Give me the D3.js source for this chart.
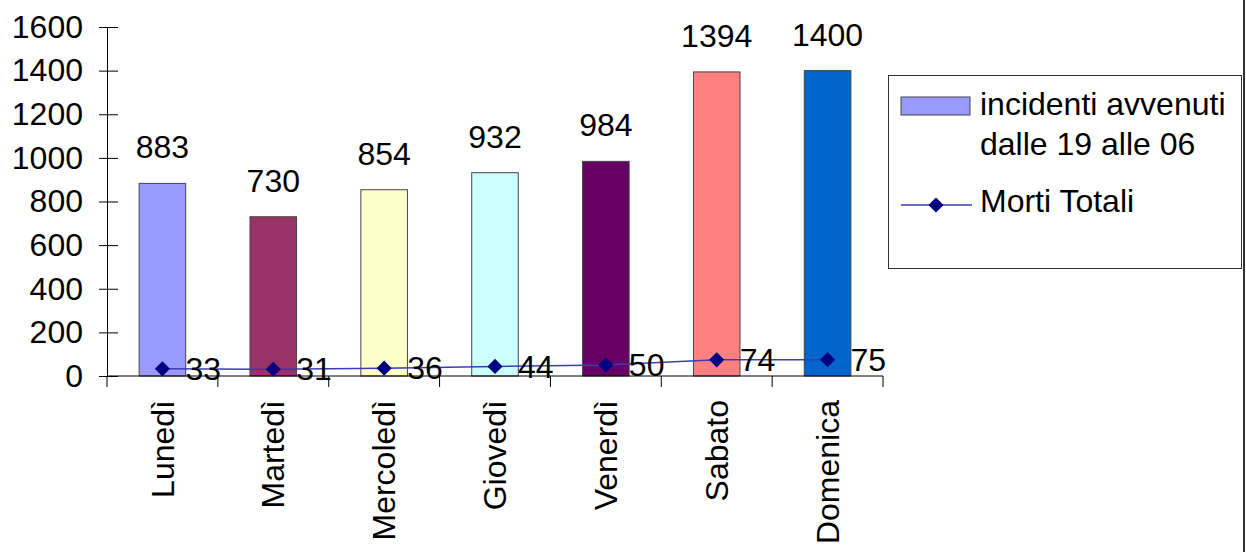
<!DOCTYPE html>
<html><head><meta charset="utf-8">
<script src="https://cdn.jsdelivr.net/npm/d3@7"></script>
<style>body{margin:0;background:#fff}svg{display:block;font-family:"Liberation Sans",Arial,sans-serif}</style>
</head><body><svg id="c" width="1246" height="552"></svg>
<script>
const categories = ["Lunedì","Martedì","Mercoledì","Giovedì","Venerdì","Sabato","Domenica"];
const incidenti = [883,730,854,932,984,1394,1400];
const morti = [33,31,36,44,50,74,75];
const barColors = ["#9999ff","#993366","#ffffcc","#ccffff","#660066","#ff8080","#0066cc"];
const yTicks = [0,200,400,600,800,1000,1200,1400,1600];
const seriesNames = ["incidenti avvenuti","dalle 19 alle 06","Morti Totali"];

(function(){
const svg = d3.select("#c");
const pL = 107, pR = 883, pT = 27, pB = 376;
const x = d3.scaleBand().domain(categories).range([pL, pR]).padding(0);
const y = d3.scaleLinear().domain([0,1600]).range([pB, pT]);
const fs = 32;

// right border
svg.append("line").attr("x1",1244).attr("x2",1244).attr("y1",0).attr("y2",552).attr("stroke","#333").attr("stroke-width",2);

// bars
const bw = x.bandwidth()*0.42;
svg.selectAll("rect.bar").data(incidenti).join("rect").attr("class","bar")
  .attr("x",(d,i)=>x(categories[i])+x.bandwidth()/2-bw/2)
  .attr("y",d=>y(d)).attr("width",bw).attr("height",d=>y(0)-y(d))
  .attr("fill",(d,i)=>barColors[i]).attr("stroke","#444").attr("stroke-width",1);

// bar labels
svg.selectAll("text.bl").data(incidenti).join("text").attr("class","bl")
  .attr("x",(d,i)=>x(categories[i])+x.bandwidth()/2).attr("y",d=>y(d)-25)
  .attr("text-anchor","middle").attr("font-size",fs).attr("fill","#000").text(d=>d);

// y axis
const yAxis = d3.axisLeft(y).tickValues(yTicks).tickFormat(d3.format("d")).tickSizeInner(0).tickSizeOuter(0).tickPadding(24);
const ga = svg.append("g").attr("transform",`translate(${pL},0)`).call(yAxis);
ga.select(".domain").attr("stroke","#000");
ga.selectAll("text").attr("font-size",fs).attr("font-family","Liberation Sans, Arial, sans-serif").attr("fill","#000");
ga.selectAll(".tick").append("line").attr("x1",-8).attr("x2",11).attr("stroke","#000");

// x axis
const gx = svg.append("g").attr("transform",`translate(0,${pB})`);
gx.append("line").attr("x1",pL).attr("x2",pR).attr("stroke","#000");
const bounds = categories.map(c=>x(c)).concat([pR]);
gx.selectAll("line.bt").data(bounds).join("line").attr("class","bt")
  .attr("x1",d=>d).attr("x2",d=>d).attr("y1",0).attr("y2",11).attr("stroke","#000");
gx.selectAll("text").data(categories).join("text")
  .attr("transform",d=>`translate(${x(d)+x.bandwidth()/2},24) rotate(-90)`)
  .attr("dy","0.35em").attr("text-anchor","end").attr("font-size",fs).attr("fill","#000").text(d=>d);

// line
const cx = i => x(categories[i])+x.bandwidth()/2;
const line = d3.line().x((d,i)=>cx(i)).y(d=>y(d));
svg.append("path").datum(morti).attr("d",line).attr("fill","none").attr("stroke","#3c3cb4").attr("stroke-width",1.5);
svg.selectAll("path.mk").data(morti).join("path").attr("class","mk")
  .attr("d",d3.symbol().type(d3.symbolSquare).size(115))
  .attr("transform",(d,i)=>`translate(${cx(i)},${y(d)}) rotate(45)`).attr("fill","#000080");
svg.selectAll("text.ml").data(morti).join("text").attr("class","ml")
  .attr("x",(d,i)=>cx(i)+23).attr("y",d=>y(d)).attr("dy","0.35em")
  .attr("font-size",fs).attr("fill","#000").text(d=>d);

// legend
const lg = svg.append("g");
lg.append("rect").attr("x",888.5).attr("y",75.5).attr("width",353).attr("height",193).attr("fill","#fff").attr("stroke","#333");
lg.append("rect").attr("x",901).attr("y",97).attr("width",69).attr("height",18).attr("fill",barColors[0]).attr("stroke","#444");
lg.append("text").attr("x",980).attr("y",115).attr("font-size",fs).text(seriesNames[0]);
lg.append("text").attr("x",980).attr("y",155).attr("font-size",fs).text(seriesNames[1]);
lg.append("line").attr("x1",901).attr("x2",972).attr("y1",205).attr("y2",205).attr("stroke","#3c3cb4").attr("stroke-width",1.5);
lg.append("path").attr("d",d3.symbol().type(d3.symbolSquare).size(115)).attr("transform","translate(936,205) rotate(45)").attr("fill","#000080");
lg.append("text").attr("x",980).attr("y",212).attr("font-size",fs).text(seriesNames[2]);
})();
</script></body></html>
